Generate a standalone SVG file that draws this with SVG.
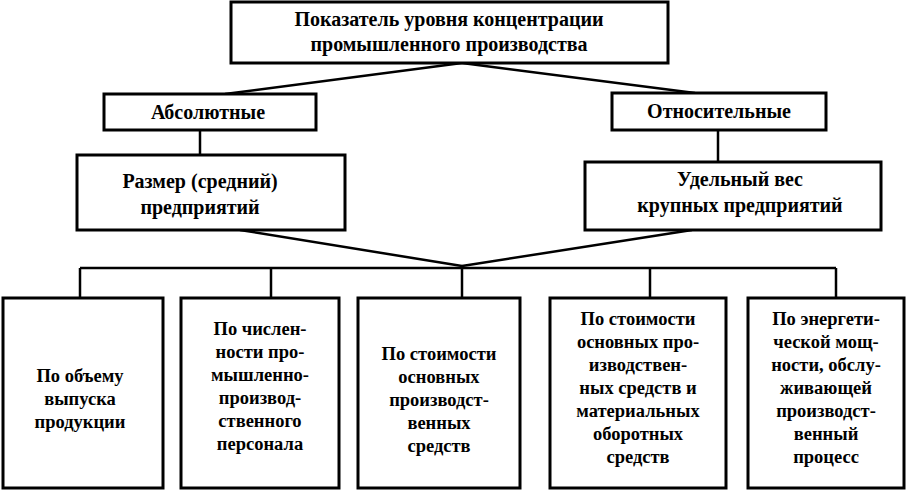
<svg xmlns="http://www.w3.org/2000/svg" width="908" height="492" viewBox="0 0 908 492">
<style>
.n{fill:#fff;stroke:#000;stroke-width:3}
line{stroke:#000;stroke-width:2.5}
text{font-family:"Liberation Serif",serif;font-weight:bold;font-size:20px;text-anchor:middle;fill:#000}
.s{font-size:18.5px}
</style>
<rect width="908" height="492" fill="#fff"/>
<g id="connectors">
<line x1="462" y1="63" x2="225" y2="94"/>
<line x1="462" y1="63" x2="695" y2="93"/>
<line x1="200" y1="130" x2="200" y2="155"/>
<line x1="718" y1="130" x2="718" y2="162"/>
<line x1="240" y1="230" x2="462" y2="266"/>
<line x1="692" y1="230" x2="462" y2="266"/>
<line x1="80" y1="268" x2="836" y2="268"/>
<line x1="462" y1="266" x2="462" y2="298"/>
<line x1="80" y1="268" x2="80" y2="298"/>
<line x1="271" y1="268" x2="271" y2="298"/>
<line x1="650" y1="268" x2="650" y2="298"/>
<line x1="836" y1="268" x2="836" y2="298"/>
</g>
<g id="top"><rect class="n" x="231" y="2" width="437" height="61"/>
<text x="449" y="26">Показатель уровня концентрации</text><text x="449" y="51">промышленного производства</text></g>
<g id="abs"><rect class="n" x="104" y="94" width="212" height="36"/><text x="208" y="119">Абсолютные</text></g>
<g id="rel"><rect class="n" x="612" y="93" width="214" height="37"/><text x="719" y="118">Относительные</text></g>
<g id="size"><rect class="n" x="77" y="155" width="268" height="75"/><text x="200" y="188">Размер (средний)</text><text x="200" y="214">предприятий</text></g>
<g id="share"><rect class="n" x="585" y="162" width="296" height="68"/><text x="740" y="186">Удельный вес</text><text x="740" y="212">крупных предприятий</text></g>
<g id="b1"><rect class="n" x="3" y="298" width="160" height="190"/><text class="s" x="80" y="382">По объему</text><text class="s" x="80" y="405">выпуска</text><text class="s" x="80" y="428">продукции</text></g>
<g id="b2"><rect class="n" x="181" y="298" width="158" height="190"/><text class="s" x="260" y="335">По числен-</text><text class="s" x="260" y="358">ности про-</text><text class="s" x="260" y="381">мышленно-</text><text class="s" x="260" y="404">производ-</text><text class="s" x="260" y="427">ственного</text><text class="s" x="260" y="450">персонала</text></g>
<g id="b3"><rect class="n" x="358" y="298" width="162" height="190"/><text class="s" x="439" y="360">По стоимости</text><text class="s" x="439" y="383">основных</text><text class="s" x="439" y="406">производст-</text><text class="s" x="439" y="429">венных</text><text class="s" x="439" y="452">средств</text></g>
<g id="b4"><rect class="n" x="550" y="298" width="176" height="190"/><text class="s" x="638" y="325">По стоимости</text><text class="s" x="638" y="348">основных про-</text><text class="s" x="638" y="371">изводствен-</text><text class="s" x="638" y="394">ных средств и</text><text class="s" x="638" y="417">материальных</text><text class="s" x="638" y="440">оборотных</text><text class="s" x="638" y="463">средств</text></g>
<g id="b5"><rect class="n" x="748" y="298" width="156" height="190"/><text class="s" x="826" y="325">По энергети-</text><text class="s" x="826" y="348">ческой мощ-</text><text class="s" x="826" y="371">ности, обслу-</text><text class="s" x="826" y="394">живающей</text><text class="s" x="826" y="417">производст-</text><text class="s" x="826" y="440">венный</text><text class="s" x="826" y="463">процесс</text></g>
</svg>
